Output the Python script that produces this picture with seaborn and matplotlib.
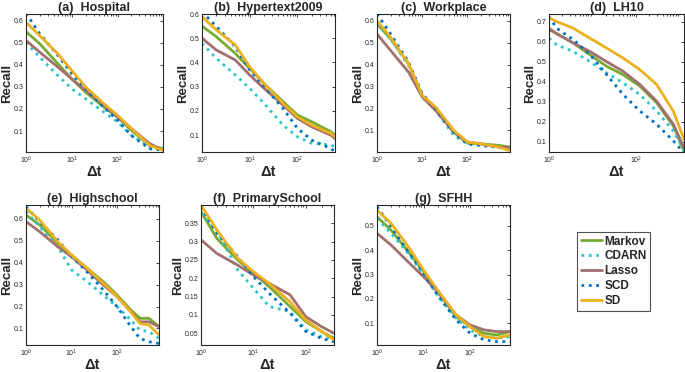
import pandas as pd
import seaborn as sns
import matplotlib
matplotlib.use("Agg")
import matplotlib.pyplot as plt
from matplotlib.ticker import FormatStrFormatter, LogLocator, NullFormatter
from matplotlib.lines import Line2D

methods = ["Markov", "CDARN", "Lasso", "SCD", "SD"]

# (a) Hospital
hosp_x = [1, 2, 5, 10, 20, 50, 100, 200, 500, 980]
hosp_markov = [0.550, 0.495, 0.404, 0.336, 0.276, 0.208, 0.163, 0.103, 0.035, 0.020]
hosp_cdarn = [0.502, 0.434, 0.351, 0.291, 0.246, 0.186, 0.141, 0.080, 0.028, 0.013]
hosp_lasso = [0.510, 0.457, 0.389, 0.336, 0.284, 0.216, 0.163, 0.111, 0.043, 0.013]
hosp_scd = [0.633, 0.540, 0.442, 0.359, 0.291, 0.208, 0.148, 0.080, 0.020, 0.013]
hosp_sd = [0.592, 0.532, 0.449, 0.374, 0.300, 0.224, 0.171, 0.111, 0.035, 0.013]

# (b) Hypertext2009
hyper_x = [1, 2, 5, 10, 20, 50, 100, 200, 500, 615]
hyper_markov = [0.550, 0.506, 0.437, 0.375, 0.313, 0.238, 0.183, 0.155, 0.114, 0.100]
hyper_cdarn = [0.479, 0.417, 0.348, 0.293, 0.231, 0.141, 0.093, 0.066, 0.059, 0.052]
hyper_lasso = [0.500, 0.451, 0.410, 0.348, 0.293, 0.224, 0.169, 0.134, 0.100, 0.086]
hyper_scd = [0.610, 0.548, 0.465, 0.369, 0.300, 0.210, 0.128, 0.079, 0.045, 0.031]
hyper_sd = [0.589, 0.534, 0.472, 0.382, 0.313, 0.231, 0.176, 0.141, 0.107, 0.093]

# (c) Workplace
work_x = [1, 2, 5, 10, 20, 50, 100, 200, 500, 870]
work_markov = [0.585, 0.517, 0.403, 0.259, 0.198, 0.092, 0.042, 0.039, 0.032, 0.024]
work_cdarn = [0.585, 0.517, 0.395, 0.259, 0.190, 0.077, 0.039, 0.032, 0.024, 0.017]
work_lasso = [0.539, 0.464, 0.365, 0.252, 0.190, 0.092, 0.047, 0.039, 0.024, 0.024]
work_scd = [0.630, 0.539, 0.410, 0.267, 0.198, 0.092, 0.039, 0.032, 0.024, 0.009]
work_sd = [0.600, 0.524, 0.403, 0.259, 0.206, 0.100, 0.047, 0.039, 0.024, 0.009]

# (d) LH10
lh_x = [1, 1.5, 3.6, 8.7, 21, 50, 121, 293, 705, 1235]
lh_markov = [0.660, 0.640, 0.593, 0.535, 0.477, 0.435, 0.378, 0.295, 0.180, 0.055]
lh_cdarn = [0.617, 0.584, 0.551, 0.500, 0.444, 0.394, 0.336, 0.254, 0.155, 0.055]
lh_lasso = [0.667, 0.640, 0.593, 0.551, 0.500, 0.452, 0.386, 0.303, 0.188, 0.070]
lh_scd = [0.725, 0.667, 0.610, 0.535, 0.435, 0.336, 0.254, 0.188, 0.105, 0.047]
lh_sd = [0.720, 0.700, 0.667, 0.617, 0.568, 0.518, 0.460, 0.386, 0.253, 0.113]

# (e) Highschool
high_x = [1, 2, 5, 10, 20, 50, 100, 200, 316, 500, 830]
high_markov = [0.618, 0.573, 0.489, 0.435, 0.382, 0.313, 0.252, 0.184, 0.146, 0.146, 0.108]
high_cdarn = [0.634, 0.565, 0.473, 0.367, 0.321, 0.252, 0.199, 0.138, 0.092, 0.085, 0.054]
high_lasso = [0.588, 0.542, 0.473, 0.428, 0.374, 0.298, 0.245, 0.176, 0.130, 0.130, 0.108]
high_scd = [0.656, 0.588, 0.504, 0.428, 0.367, 0.275, 0.199, 0.108, 0.054, 0.039, 0.031]
high_sd = [0.649, 0.595, 0.496, 0.435, 0.382, 0.306, 0.245, 0.176, 0.123, 0.115, 0.070]

# (f) PrimarySchool
prim_x = [1, 2, 5, 10, 20, 50, 100, 200, 345]
prim_markov = [0.382, 0.309, 0.250, 0.214, 0.177, 0.123, 0.082, 0.055, 0.036]
prim_cdarn = [0.377, 0.332, 0.223, 0.173, 0.123, 0.109, 0.059, 0.041, 0.036]
prim_lasso = [0.305, 0.268, 0.236, 0.209, 0.186, 0.155, 0.095, 0.068, 0.050]
prim_scd = [0.395, 0.323, 0.259, 0.205, 0.159, 0.105, 0.055, 0.036, 0.027]
prim_sd = [0.400, 0.332, 0.255, 0.218, 0.186, 0.136, 0.086, 0.055, 0.032]

# (g) SFHH
sfhh_x = [1, 2, 5, 10, 20, 50, 100, 200, 375, 720]
sfhh_markov = [0.537, 0.482, 0.387, 0.312, 0.230, 0.127, 0.086, 0.059, 0.052, 0.066]
sfhh_cdarn = [0.530, 0.469, 0.380, 0.298, 0.216, 0.120, 0.073, 0.045, 0.039, 0.045]
sfhh_lasso = [0.469, 0.421, 0.346, 0.291, 0.230, 0.134, 0.093, 0.073, 0.066, 0.066]
sfhh_scd = [0.578, 0.496, 0.387, 0.305, 0.216, 0.114, 0.059, 0.032, 0.025, 0.025]
sfhh_sd = [0.564, 0.510, 0.407, 0.318, 0.237, 0.134, 0.086, 0.045, 0.039, 0.052]

colors = {"Markov": "#77AC30", "CDARN": "#2EC4CC", "Lasso": "#A2706E",
          "SCD": "#0072BD", "SD": "#EDB120"}
styles = {"Markov": "-", "CDARN": ":", "Lasso": "-", "SCD": ":", "SD": "-"}

panels = [
    ("(a)  Hospital", hosp_x, [hosp_markov, hosp_cdarn, hosp_lasso, hosp_scd, hosp_sd],
     (1, 980), (0.005, 0.63), [0.1, 0.2, 0.3, 0.4, 0.5, 0.6], [26, 163, 14, 152]),
    ("(b)  Hypertext2009", hyper_x, [hyper_markov, hyper_cdarn, hyper_lasso, hyper_scd, hyper_sd],
     (1, 615), (0.03, 0.60), [0.1, 0.2, 0.3, 0.4, 0.5, 0.6], [202, 335, 14, 152]),
    ("(c)  Workplace", work_x, [work_markov, work_cdarn, work_lasso, work_scd, work_sd],
     (1, 870), (0.002, 0.63), [0.1, 0.2, 0.3, 0.4, 0.5, 0.6], [377, 510, 14, 152]),
    ("(d)  LH10", lh_x, [lh_markov, lh_cdarn, lh_lasso, lh_scd, lh_sd],
     (1, 1235), (0.05, 0.738), [0.1, 0.2, 0.3, 0.4, 0.5, 0.6, 0.7], [549, 684, 14, 152]),
    ("(e)  Highschool", high_x, [high_markov, high_cdarn, high_lasso, high_scd, high_sd],
     (1, 830), (0.024, 0.664), [0.1, 0.2, 0.3, 0.4, 0.5, 0.6], [26, 159, 205, 345]),
    ("(f)  PrimarySchool", prim_x, [prim_markov, prim_cdarn, prim_lasso, prim_scd, prim_sd],
     (1, 345), (0.018, 0.40), [0.05, 0.1, 0.15, 0.2, 0.25, 0.3, 0.35], [201, 334, 205, 345]),
    ("(g)  SFHH", sfhh_x, [sfhh_markov, sfhh_cdarn, sfhh_lasso, sfhh_scd, sfhh_sd],
     (1, 720), (0.011, 0.585), [0.1, 0.2, 0.3, 0.4, 0.5], [377, 510, 205, 345]),
]

sns.set_style("white")
plt.rcParams['font.family'] = ['Liberation Sans', 'DejaVu Sans']
plt.rcParams['mathtext.fontset'] = 'custom'
plt.rcParams['mathtext.rm'] = 'Liberation Sans'

W, H = 685, 372
fig = plt.figure(figsize=(W / 100, H / 100), dpi=100)

for title, xs, series, xlim, ylim, yticks, box in panels:
    l, r, t, b = box
    ax = fig.add_axes([l / W, 1 - b / H, (r - l) / W, (b - t) / H])
    for name, ys in zip(methods, series):
        df = pd.DataFrame({"dt": xs, "recall": ys})
        sns.lineplot(data=df, x="dt", y="recall", ax=ax, color=colors[name],
                     linestyle=styles[name], linewidth=2.0)
    ax.set_xscale("log")
    ax.set_xlim(*xlim)
    ax.set_ylim(*ylim)
    if title.startswith("(d)"):
        ax.set_xticks([1, 100])
    else:
        ax.set_xticks([1, 10, 100])
    ax.xaxis.set_minor_locator(LogLocator(base=10, subs=range(2, 10), numticks=20))
    ax.xaxis.set_minor_formatter(NullFormatter())
    ax.set_yticks(yticks)
    ax.yaxis.set_major_formatter(FormatStrFormatter('%g'))
    ax.tick_params(which='both', direction='in', top=True, right=True,
                   labelsize=5, length=2.5, width=0.6, pad=2)
    ax.tick_params(which='minor', length=1.5)
    for s in ax.spines.values():
        s.set_linewidth(0.8)
        s.set_color("#262626")
    ax.set_title(title, fontsize=9, fontweight='bold', pad=2)
    ax.set_xlabel("Δt", fontsize=10.5, fontweight='bold', labelpad=-1)
    ax.set_ylabel("Recall", fontsize=9.5, fontweight='bold')
    # wider tick labels in (f) push the label further left
    off = 17 if title.startswith("(f)") else 13
    ax.yaxis.set_label_coords(-off / (r - l), 0.5)

handles = [Line2D([], [], color=colors[m], linestyle=styles[m], linewidth=2.0) for m in methods]
leg = fig.legend(handles, methods, loc='upper left',
                 bbox_to_anchor=(577 / W, 1 - 232 / H), frameon=True,
                 prop={'weight': 'bold', 'size': 8.5}, handlelength=1.8,
                 handletextpad=0.2, labelspacing=0.25, borderpad=0.3,
                 borderaxespad=0, fancybox=False)
leg.get_frame().set_edgecolor("#262626")
leg.get_frame().set_linewidth(0.8)

fig.savefig("out.png", dpi=100)
